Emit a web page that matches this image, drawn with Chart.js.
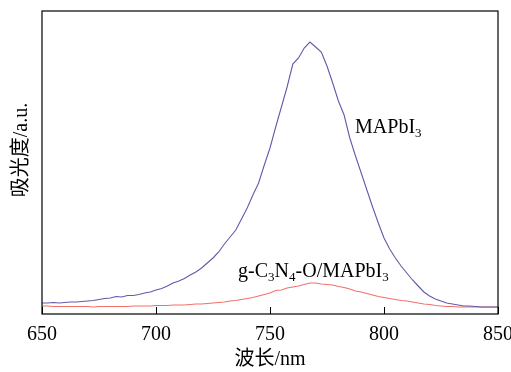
<!DOCTYPE html>
<html>
<head>
<meta charset="utf-8">
<script src="https://cdn.jsdelivr.net/npm/chart.js@4/dist/chart.umd.min.js"></script>
<style>
    html, body { margin: 0; padding: 0; background: #fff; }
    #wrap { width: 511px; height: 372px; }
</style>
</head>
<body>
<div id="wrap"><canvas id="myChart" width="511" height="372"></canvas></div>
<script>
const wavelengths = [
    650, 652.5, 655, 657.5, 660, 662.5, 665, 667.5, 670, 672.5, 675, 677.5, 680, 682.5, 685, 687.5,
    690, 692.5, 695, 697.5, 700, 702.5, 705, 707.5, 710, 712.5, 715, 717.5, 720, 722.5, 725, 727.5,
    730, 732.5, 735, 737.5, 740, 742.5, 745, 747.5, 750, 752.5, 755, 757.5, 760, 762.5, 765, 767.5,
    770, 772.5, 775, 777.5, 780, 782.5, 785, 787.5, 790, 792.5, 795, 797.5, 800, 802.5, 805, 807.5,
    810, 812.5, 815, 817.5, 820, 822.5, 825, 827.5, 830, 832.5, 835, 837.5, 840, 842.5, 845, 847.5, 850
]
const mapbi3 = [
    11, 11, 11.5, 11, 11.5, 12, 12, 12.5, 13, 13.5, 14.5, 15.5, 16, 17.5, 17, 18.5,
    18.5, 19.5, 21, 22, 24, 25.5, 28, 31, 33, 35.5, 39, 42, 46, 51, 56, 62,
    70, 77, 84, 95, 106, 119, 131, 149, 166, 187, 207, 227, 250, 256, 266, 272,
    267, 262, 248, 231, 213, 199, 176, 158, 141, 124, 107, 91, 76, 65, 56, 48,
    41, 34, 28, 22, 18, 15, 13, 11, 10, 9, 8, 8, 7.5, 7, 7, 7, 7
]
const composite = [
    8, 8, 7.5, 7.5, 7.5, 7.5, 7.5, 7.5, 7.5, 7, 7.5, 7.5, 7.5, 7.5, 7.5, 7.5,
    8, 8, 8, 8, 8.5, 8.5, 8.5, 9, 9, 9, 9.5, 10, 10, 10.5, 11, 11.5,
    12, 13, 13.5, 14.5, 15.5, 16.5, 18, 19.5, 21, 23.5, 24, 26, 27, 28, 29.5, 31,
    31, 30, 29.5, 29, 27.5, 26.5, 25, 23, 22, 20.5, 19, 17.5, 16.5, 15.5, 14.5, 13.5,
    13, 12, 11, 10, 9.5, 8.5, 8, 7.5, 7.5, 7, 7, 7, 7, 7, 7, 7, 7
]
const xTicks = [650, 700, 750, 800, 850]

const serif = '"Liberation Serif", "Times New Roman", "Noto Sans CJK SC", serif'

const toPoints = (xs, ys) => xs.map((x, i) => ({ x: x, y: ys[i] }))

// text with subscripts, parts = [[text, isSub], ...]
const drawRich = (c, parts, x, y) => {
    let cx = x
    parts.forEach(([txt, sub]) => {
        c.font = sub ? `13px ${serif}` : `20px ${serif}`
        c.fillText(txt, cx, sub ? y + 4 : y)
        cx += c.measureText(txt).width
    })
}

const framePlugin = {
    id: 'frame',
    afterDraw(chart) {
        const c = chart.ctx
        const { left, right, top, bottom } = chart.chartArea
        const xs = chart.scales.x
        const ys = chart.scales.y
        c.save()
        c.strokeStyle = '#000'
        c.lineWidth = 1.2
        c.strokeRect(left, top, right - left, bottom - top)
        // inward ticks
        c.lineWidth = 1
        xTicks.forEach((t) => {
            const px = Math.round(xs.getPixelForValue(t)) + 0.5
            c.beginPath()
            c.moveTo(px, bottom)
            c.lineTo(px, bottom - 7)
            c.stroke()
        })
        // curve labels
        c.fillStyle = '#000'
        c.textBaseline = 'alphabetic'
        c.textAlign = 'left'
        drawRich(c, [['MAPbI', false], ['3', true]], xs.getPixelForValue(787.3), ys.getPixelForValue(181))
        drawRich(c, [['g-C', false], ['3', true], ['N', false], ['4', true], ['-O/MAPbI', false], ['3', true]],
            xs.getPixelForValue(736), ys.getPixelForValue(37))
        // y title
        c.translate(22, 150)
        c.rotate(-Math.PI / 2)
        c.textAlign = 'center'
        c.textBaseline = 'middle'
        c.font = `20px ${serif}`
        c.fillText('吸光度/a.u.', 0, 0)
        c.restore()
    }
}

const ctx = document.getElementById('myChart')

const config = {
    type: 'line',
    data: {
        datasets: [
            {
                label: 'MAPbI3',
                data: toPoints(wavelengths, mapbi3),
                borderColor: '#6658a8',
                borderWidth: 1.1,
                pointRadius: 0,
                tension: 0,
                fill: false,
            },
            {
                label: 'g-C3N4-O/MAPbI3',
                data: toPoints(wavelengths, composite),
                borderColor: '#f2706c',
                borderWidth: 1.1,
                pointRadius: 0,
                tension: 0,
                fill: false,
            },
        ],
    },
    options: {
        responsive: false,
        animation: false,
        layout: { padding: { top: 11, right: 13, left: 0, bottom: 0 } },
        plugins: {
            legend: { display: false },
            tooltip: { enabled: false },
        },
        scales: {
            x: {
                type: 'linear',
                min: 650,
                max: 850,
                afterBuildTicks: (scale) => {
                    scale.ticks = xTicks.map((v) => ({ value: v }))
                },
                afterFit: (scale) => {
                    scale.height = 58
                    scale.paddingLeft = 0
                    scale.paddingRight = 0
                },
                grid: { display: false },
                border: { display: false },
                ticks: {
                    color: '#000',
                    padding: 1,
                    maxRotation: 0,
                    autoSkip: false,
                    font: { family: serif, size: 20 },
                },
                title: {
                    display: true,
                    text: '波长/nm',
                    color: '#000',
                    padding: { top: 0, bottom: 0 },
                    font: { family: serif, size: 20, lineHeight: 1.2 },
                },
            },
            y: {
                min: 0,
                max: 303,
                afterFit: (scale) => {
                    scale.width = 42
                    scale.paddingTop = 0
                    scale.paddingBottom = 0
                },
                grid: { display: false },
                border: { display: false },
                ticks: { display: false },
            },
        },
    },
    plugins: [framePlugin],
}

new Chart(ctx, config)
</script>
</body>
</html>
